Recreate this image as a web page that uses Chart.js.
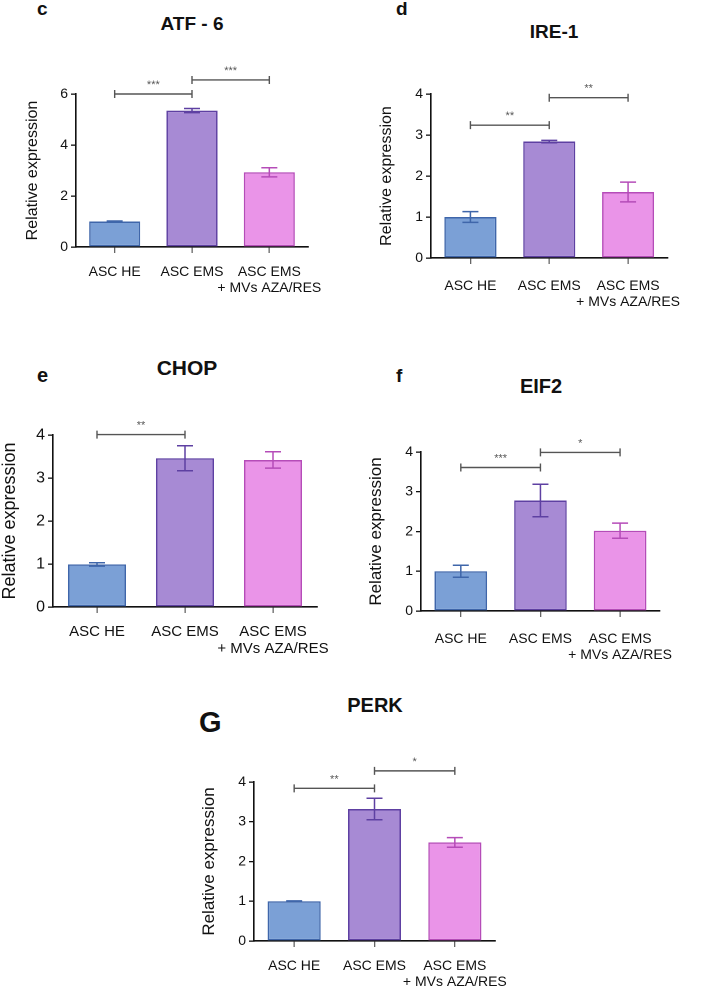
<!DOCTYPE html>
<html>
<head>
<meta charset="utf-8">
<script src="https://cdn.jsdelivr.net/npm/chart.js@4.4.1/dist/chart.umd.min.js"></script>
<style>
  body { margin: 0; background: #fff; }
  #page { position: relative; width: 708px; height: 992px; overflow: hidden; font-family: "Liberation Sans", Arial, sans-serif; }
  canvas { position: absolute; }
  .lbl { position: absolute; font-weight: bold; line-height: 1; color: #111; white-space: nowrap; }
  .ttl { position: absolute; font-weight: bold; line-height: 1; color: #111; white-space: nowrap; transform: translateX(-50%); }
</style>
</head>
<body>
<div id="page">
  <div class="lbl" style="left:37px;top:-1px;font-size:19px">c</div>
  <div class="lbl" style="left:396px;top:-1px;font-size:19px">d</div>
  <div class="lbl" style="left:37px;top:365px;font-size:20px">e</div>
  <div class="lbl" style="left:396px;top:366px;font-size:19px">f</div>
  <div class="lbl" style="left:199px;top:708px;font-size:29px">G</div>

  <div class="ttl" style="left:192px;top:14px;font-size:19px">ATF - 6</div>
  <div class="ttl" style="left:554px;top:22px;font-size:19px">IRE-1</div>
  <div class="ttl" style="left:187px;top:357px;font-size:21px">CHOP</div>
  <div class="ttl" style="left:541px;top:376px;font-size:20px">EIF2</div>
  <div class="ttl" style="left:375px;top:695px;font-size:20px">PERK</div>

  <canvas id="atf6"></canvas>
  <canvas id="ire1"></canvas>
  <canvas id="chop"></canvas>
  <canvas id="eif2"></canvas>
  <canvas id="perk"></canvas>
</div>
<script>
const groups = [['ASC HE'], ['ASC EMS'], ['ASC EMS', '+ MVs AZA/RES']];

const atf6Mean = [1.0, 5.35, 2.93];
const atf6Err = [0.02, 0.08, 0.18];
const atf6Sig = [[0, 1, 6.0, '***'], [1, 2, 6.55, '***']];

const ire1Mean = [1.0, 2.84, 1.61];
const ire1Err = [0.13, 0.03, 0.24];
const ire1Sig = [[0, 1, 3.24, '**'], [1, 2, 3.91, '**']];

const chopMean = [0.99, 3.46, 3.42];
const chopErr = [0.04, 0.29, 0.19];
const chopSig = [[0, 1, 4.01, '**']];

const eif2Mean = [1.0, 2.78, 2.02];
const eif2Err = [0.15, 0.41, 0.19];
const eif2Sig = [[0, 1, 3.61, '***'], [1, 2, 3.99, '*']];

const perkMean = [1.0, 3.32, 2.48];
const perkErr = [0.01, 0.27, 0.12];
const perkSig = [[0, 1, 3.84, '**'], [1, 2, 4.28, '*']];

const fills = ['#7BA0D6', '#A78AD4', '#EA94E8'];
const edges = ['#3F66AA', '#5E40A2', '#B54CB8'];
const FONT = '"Liberation Sans", Arial, sans-serif';

// error bars + significance brackets
const extras = {
    id: 'extras',
    afterDatasetsDraw(chart, args, opts) {
        const ctx = chart.ctx;
        const x = chart.scales.x, y = chart.scales.y;
        const meta = chart.getDatasetMeta(0);
        ctx.save();
        ctx.lineWidth = 1.5;
        opts.err.forEach((e, i) => {
            const cx = meta.data[i].x;
            const m = chart.data.datasets[0].data[i];
            const top = y.getPixelForValue(m + e), bot = y.getPixelForValue(m - e);
            ctx.strokeStyle = edges[i];
            ctx.beginPath();
            ctx.moveTo(cx, top); ctx.lineTo(cx, bot);
            ctx.moveTo(cx - 8, top); ctx.lineTo(cx + 8, top);
            ctx.moveTo(cx - 8, bot); ctx.lineTo(cx + 8, bot);
            ctx.stroke();
        });
        ctx.strokeStyle = '#555';
        ctx.fillStyle = '#555';
        ctx.lineWidth = 1.4;
        ctx.font = '11px ' + FONT;
        ctx.textAlign = 'center';
        ctx.textBaseline = 'alphabetic';
        opts.sig.forEach(s => {
            const x1 = x.getPixelForValue(s[0]), x2 = x.getPixelForValue(s[1]);
            const py = y.getPixelForValue(s[2]);
            ctx.beginPath();
            ctx.moveTo(x1, py); ctx.lineTo(x2, py);
            ctx.moveTo(x1, py - 4); ctx.lineTo(x1, py + 4);
            ctx.moveTo(x2, py - 4); ctx.lineTo(x2, py + 4);
            ctx.stroke();
            ctx.fillText(s[3], (x1 + x2) / 2, py - 6);
        });
        ctx.restore();
    }
};

function panel(id, box, mean, err, sig, yMax, step, sizes) {
    const cv = document.getElementById(id);
    cv.style.left = box.left + 'px';
    cv.style.top = box.top + 'px';
    cv.style.width = box.w + 'px';
    cv.style.height = box.h + 'px';
    new Chart(cv, {
        type: 'bar',
        data: {
            labels: groups,
            datasets: [{
                data: mean,
                backgroundColor: fills,
                borderColor: edges,
                borderWidth: 1.5,
                borderSkipped: false,
                barPercentage: 0.66,
                categoryPercentage: 1
            }]
        },
        options: {
            responsive: false,
            animation: false,
            devicePixelRatio: 2,
            layout: { padding: { left: 0, right: box.padR, top: box.padT, bottom: 0 } },
            plugins: {
                legend: { display: false },
                tooltip: { enabled: false },
                extras: { err: err, sig: sig }
            },
            scales: {
                x: {
                    offset: true,
                    grid: { offset: false, drawOnChartArea: false, color: '#666', lineWidth: 1.3, tickLength: 6 },
                    border: { color: '#111', width: 1.6 },
                    ticks: { color: '#111', padding: box.xPad, maxRotation: 0, autoSkip: false,
                             font: { family: FONT, size: sizes.x, lineHeight: 1.15 } },
                    afterFit: s => { s.height = box.xh; }
                },
                y: {
                    min: 0, max: yMax,
                    grid: { drawOnChartArea: false, color: '#111', lineWidth: 1.3, tickLength: 5 },
                    border: { color: '#111', width: 1.6 },
                    ticks: { stepSize: step, color: '#111', padding: 3, font: { family: FONT, size: sizes.y } },
                    title: { display: true, text: 'Relative expression', color: '#111', padding: 0,
                             font: { family: FONT, size: sizes.t, lineHeight: 1.2 } },
                    afterFit: s => { s.width = box.yw; }
                }
            }
        },
        plugins: [extras]
    });
}

panel('atf6', { left: 23, top: 50, w: 315, h: 257, padR: 30, padT: 44, yw: 53, xh: 60, xPad: 11 },
      atf6Mean, atf6Err, atf6Sig, 6, 2, { x: 14, y: 14, t: 16 });
panel('ire1', { left: 377, top: 50, w: 322, h: 268, padR: 30, padT: 44, yw: 54, xh: 60, xPad: 14 },
      ire1Mean, ire1Err, ire1Sig, 4, 1, { x: 14, y: 14, t: 16 });
panel('chop', { left: -1, top: 400, w: 348, h: 267, padR: 30, padT: 35, yw: 54, xh: 60, xPad: 10 },
      chopMean, chopErr, chopSig, 4, 1, { x: 15, y: 16, t: 18 });
panel('eif2', { left: 366, top: 420, w: 325, h: 251, padR: 30, padT: 32, yw: 55, xh: 60, xPad: 14 },
      eif2Mean, eif2Err, eif2Sig, 4, 1, { x: 14, y: 14, t: 17 });
panel('perk', { left: 199, top: 740, w: 326, h: 252, padR: 30, padT: 42, yw: 55, xh: 51, xPad: 11 },
      perkMean, perkErr, perkSig, 4, 1, { x: 14, y: 14, t: 17 });
</script>
</body>
</html>
